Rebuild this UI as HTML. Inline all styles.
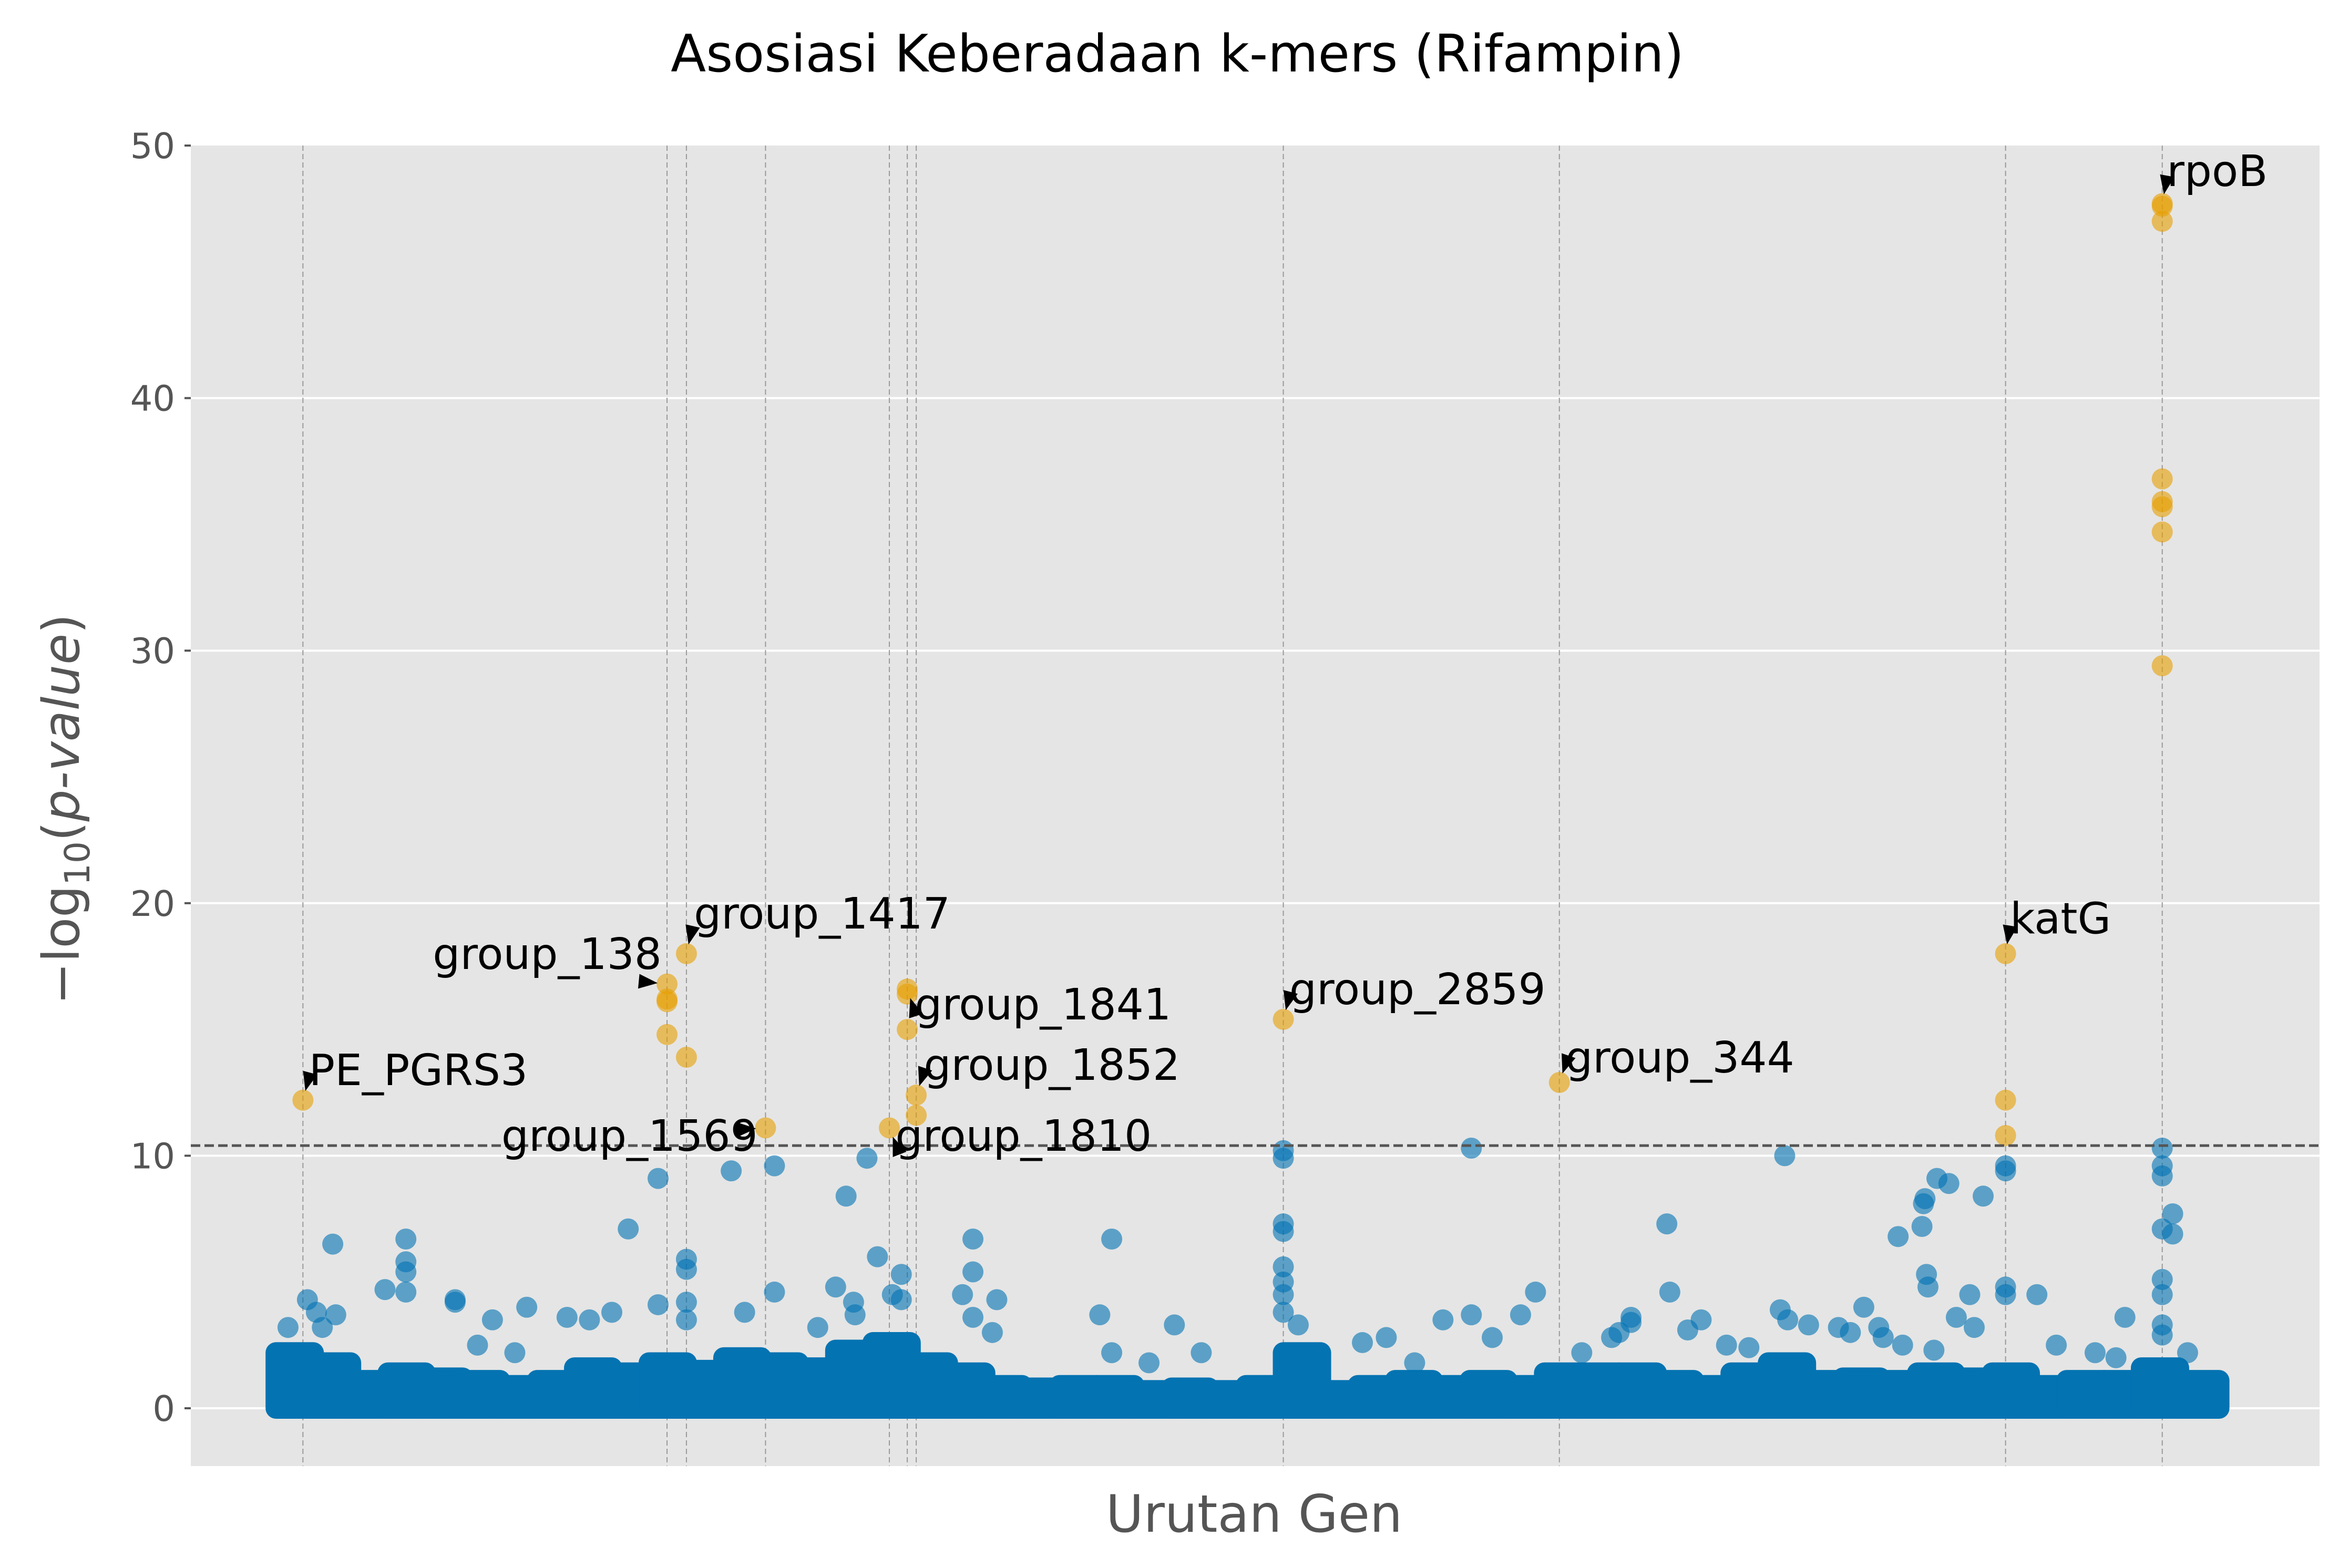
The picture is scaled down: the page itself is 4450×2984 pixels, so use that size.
<!DOCTYPE html>
<html><head><meta charset="utf-8"><style>
html,body{margin:0;padding:0;background:#fff;}
svg{display:block;font-family:"DejaVu Sans","Liberation Sans",sans-serif;}
</style></head><body>
<svg id="chart" width="4450" height="2984" viewBox="0 0 4450 2984" xmlns="http://www.w3.org/2000/svg">
<rect x="0" y="0" width="4450" height="2984" fill="#fff"/>
<text x="2240" y="136" font-size="98" text-anchor="middle" fill="#000">Asosiasi Keberadaan k-mers (Rifampin)</text>
<rect x="363" y="277" width="4050" height="2513" fill="#e5e5e5"/>
<g id="grid"></g>
<g id="vlines"></g>
<g id="dense"></g>
<g id="blue"></g>
<g id="orange"></g>
<g id="thresh"></g>
<g id="annot"></g>
<g id="yticks"></g>
<text transform="translate(150,1540) rotate(-90)" font-size="96" text-anchor="middle" fill="#555">−log<tspan font-size="66" dy="20">10</tspan><tspan dy="-20">(</tspan><tspan font-style="italic">p-value</tspan>)</text>
<text x="2386" y="2915" font-size="98" text-anchor="middle" fill="#555">Urutan Gen</text>
</svg>
<script>
const yTicks = [0,10,20,30,40,50];
const threshold = 10.4;
const geneLines = [203,447,460,513,596,608,614,860,1045,1344,1449];
const segStarts = [185,210,235,260,285,310,335,360,385,410,435,460,485,510,535,560,585,610,635,660,685,710,735,760,785,810,835,860,885,910,935,960,985,1010,1035,1060,1085,1110,1135,1160,1185,1210,1235,1260,1285,1310,1335,1360,1385,1410,1435,1460];
const segHeights = [2.2,1.8,1.1,1.4,1.2,1.1,0.9,1.1,1.6,1.4,1.8,1.5,2.0,1.8,1.6,2.3,2.6,1.8,1.4,0.9,0.8,0.9,0.9,0.7,0.8,0.7,0.9,2.2,0.7,0.9,1.1,0.9,1.1,0.9,1.4,1.4,1.4,1.1,0.9,1.4,1.8,1.1,1.2,1.1,1.4,1.2,1.4,0.9,1.1,1.1,1.6,1.1];
const blueX = [223,272,272,272,272,258,305,305,353,421,441,441,460,460,460,460,490,519,519,499,567,581,588,604,604,645,652,652,652,668,737,745,787,860,860,860,860,860,860,860,860,870,913,929,967,986,986,1019,1029,1117,1119,1140,1131,1196,1193,1212,1249,1259,1272,1289,1290,1288,1291,1292,1298,1306,1311,1320,1329,1323,1344,1344,1344,1344,1365,1424,1449,1449,1449,1449,1449,1449,1449,1456,1456,1449,1198,1000,1085,1093,1093,1060,216,193,206,212,225,380,395,410,320,330,345,548,560,572,573,598,665,745,770,805,948,1080,1157,1172,1232,1240,1262,1275,1296,1378,1404,1418,1466];
const blueY = [6.5,6.7,5.8,5.4,4.6,4.7,4.3,4.2,4.0,7.1,9.1,4.1,5.9,5.5,4.2,3.5,9.4,9.6,4.6,3.8,8.4,9.9,6.0,5.3,4.3,4.5,6.7,5.4,3.6,4.3,3.7,6.7,3.3,10.2,9.9,7.3,7.0,5.6,5.0,4.5,3.8,3.3,2.6,2.8,3.5,10.3,3.7,3.7,4.6,7.3,4.6,3.5,3.1,10.0,3.9,3.3,4.0,3.2,6.8,8.1,8.3,7.2,5.3,4.8,9.1,8.9,3.6,4.5,8.4,3.2,9.6,9.4,4.8,4.5,4.5,3.6,10.3,9.6,9.2,7.1,5.1,4.5,3.3,7.7,6.9,2.9,3.5,2.8,3.0,3.4,3.6,2.2,3.2,3.2,4.3,3.8,3.7,3.6,3.5,3.8,2.5,3.5,2.2,3.2,4.8,4.2,3.7,4.5,3.0,2.2,1.8,2.2,1.8,2.8,2.5,2.4,3.2,3.0,2.8,2.5,2.3,2.5,2.2,2.0,2.2];
const sigX = [203,447,447,447,447,460,460,513,596,608,608,608,614,614,860,1045,1344,1344,1344,1449,1449,1449,1449,1449,1449,1449,1449];
const sigY = [12.2,16.8,16.2,16.1,14.8,18.0,13.9,11.1,11.1,16.6,16.4,15.0,12.4,11.6,15.4,12.9,18.0,12.2,10.8,47.7,47.6,47.0,36.8,35.9,35.7,34.7,29.4];
const annLabels = ["PE_PGRS3","group_138","group_1417","group_1569","group_1810","group_1841","group_1852","group_2859","group_344","katG","rpoB"];
const annPointX = [203,447,460,513,596,608,614,860,1045,1344,1449];
const annPointY = [12.2,16.8,18.0,11.1,11.1,16.6,12.4,15.4,12.9,18.0,47.7];
const annTextX = [207,290,465,336,600,613,619,864,1049,1347,1452];
const annTextY = [12.8,17.4,19.0,10.2,10.2,15.4,13.0,16.0,13.3,18.8,48.4];

const NS = "http://www.w3.org/2000/svg";
const X0=363, X1=4413;
const xs = v => v * 2.839;
const ys = v => 2680 - v * (2680 - 277) / 50;
function mk(tag, attrs, parent){const e=document.createElementNS(NS,tag);for(const k in attrs)e.setAttribute(k,attrs[k]);parent.appendChild(e);return e;}
const g = id => document.getElementById(id);

yTicks.forEach(t=>{
  if(t<50){const l=mk('line',{x1:X0,x2:X1,y1:ys(t),y2:ys(t),stroke:'#fff','stroke-width':4},g('grid'));
  
  }
  const tk=mk('line',{x1:X0-12,x2:X0,y1:ys(t),y2:ys(t),stroke:'#555','stroke-width':4},g('yticks'));
  
  
  const tx=mk('text',{x:X0-30,y:ys(t)+24,'font-size':67,fill:'#555','text-anchor':'end'},g('yticks'));
  tx.textContent=t;
  
  
});
geneLines.forEach(v=>{
  const l=mk('line',{x1:xs(v),x2:xs(v),y1:277,y2:2790,stroke:'#999','stroke-width':2,'stroke-dasharray':'10,6'},g('vlines'));
  
  
});
const R=20;
segStarts.forEach((s,i)=>{
  const e = i+1<segStarts.length ? segStarts[i+1] : 1487;
  const h = segHeights[i];
  const px0=xs(s), px1=xs(e), top=ys(h), bot=ys(0);
  const r=mk('rect',{x:px0-R,y:top-R,width:px1-px0+2*R,height:bot-top+2*R,rx:R,fill:'#0473b2'},g('dense'));
  
  
});
blueX.forEach((v,i)=>{
  const c=mk('circle',{cx:xs(v),cy:ys(blueY[i]),r:R,fill:'#0072b2','fill-opacity':0.6},g('blue'));
  
  
});
sigX.forEach((v,i)=>{
  const c=mk('circle',{cx:xs(v),cy:ys(sigY[i]),r:R,fill:'#e69f00','fill-opacity':0.6},g('orange'));
  
  
});
const th=mk('line',{x1:X0,x2:X1,y1:ys(threshold),y2:ys(threshold),stroke:'#555','stroke-width':5,'stroke-dasharray':'18,8'},g('thresh'));


annLabels.forEach((lab,i)=>{
  const px=xs(annPointX[i]), py=ys(annPointY[i]);
  const tx=xs(annTextX[i]), ty=ys(annTextY[i]);
  const dx=tx-px, dy=(ty-14)-py, L=Math.hypot(dx,dy)||1, ux=dx/L, uy=dy/L;
  const tipX=px+ux*18, tipY=py+uy*18, bx=tipX+ux*36, by=tipY+uy*36;
  const a=mk('polygon',{points:`${tipX},${tipY} ${bx-uy*14},${by+ux*14} ${bx+uy*14},${by-ux*14}`,fill:'#000'},g('annot'));
  
  
  const t=mk('text',{x:tx,y:ty,'font-size':82,fill:'#000'},g('annot'));
  t.textContent=lab;
  
  
});
</script>
</body></html>
